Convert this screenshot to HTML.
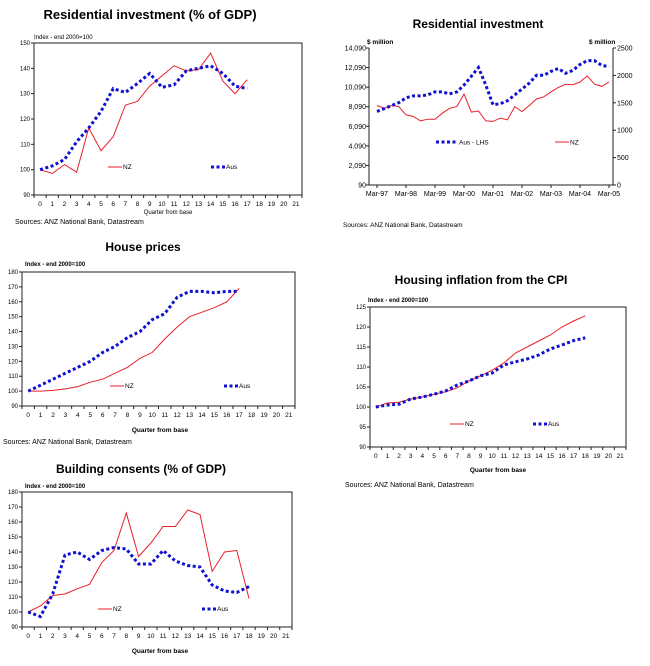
<!DOCTYPE html>
<html><head><meta charset="utf-8"><style>
body{margin:0;background:#fff;width:650px;height:661px;overflow:hidden}
svg{font-family:"Liberation Sans",Arial,sans-serif}
</style></head><body>
<svg id="s" width="650" height="661" xmlns="http://www.w3.org/2000/svg">
<text x="150" y="19" font-size="13" font-weight="bold" text-anchor="middle">Residential investment (% of GDP)</text>
<text x="34" y="39" font-size="6">Index - end 2000=100</text>
<text x="168" y="214" font-size="6" text-anchor="middle">Quarter from base</text>
<text x="15" y="224" font-size="7">Sources: ANZ National Bank, Datastream</text>

<text x="478" y="28" font-size="12" font-weight="bold" text-anchor="middle">Residential investment</text>
<text x="367" y="44" font-size="6.5" font-weight="bold">$ million</text>
<text x="589" y="44" font-size="6.5" font-weight="bold">$ million</text>
<text x="343" y="227" font-size="6.5">Sources: ANZ National Bank, Datastream</text>

<text x="143" y="251" font-size="12" font-weight="bold" text-anchor="middle">House prices</text>
<text x="25" y="266" font-size="6" font-weight="bold">Index - end 2000=100</text>
<text x="160" y="432" font-size="6.5" font-weight="bold" text-anchor="middle">Quarter from base</text>
<text x="3" y="444" font-size="7">Sources: ANZ National Bank, Datastream</text>

<text x="481" y="284" font-size="12" font-weight="bold" text-anchor="middle">Housing inflation from the CPI</text>
<text x="368" y="302" font-size="6" font-weight="bold">Index - end 2000=100</text>
<text x="498" y="472" font-size="6.5" font-weight="bold" text-anchor="middle">Quarter from base</text>
<text x="345" y="487" font-size="7">Sources: ANZ National Bank, Datastream</text>

<text x="141" y="473" font-size="12" font-weight="bold" text-anchor="middle">Building consents (% of GDP)</text>
<text x="25" y="488" font-size="6" font-weight="bold">Index - end 2000=100</text>
<text x="160" y="653" font-size="6.5" font-weight="bold" text-anchor="middle">Quarter from base</text>
</svg>
<script>
var s=document.getElementById('s'),NS='http://www.w3.org/2000/svg';
function el(t,a,txt){var e=document.createElementNS(NS,t);for(var k in a)e.setAttribute(k,a[k]);if(txt!==undefined)e.textContent=txt;s.appendChild(e);return e;}
var RED='#e8202a',BLUE='#1010d0';
function line(pts,c){el('polyline',{points:pts.map(function(p){return p[0].toFixed(1)+','+p[1].toFixed(1)}).join(' '),fill:'none',stroke:c==='r'?RED:BLUE,'stroke-width':c==='r'?1:3,'stroke-dasharray':c==='r'?'':'3 2.5'});}
function chart(o){
 var x0=o.x0,x1=o.x1,y0=o.y0,y1=o.y1,w=(x1-x0)/22;
 el('rect',{x:x0,y:y0,width:x1-x0,height:y1-y0,fill:'none',stroke:'#222','stroke-width':1});
 for(var v=o.min;v<=o.max;v+=o.step){var y=y1-(v-o.min)/(o.max-o.min)*(y1-y0);
  el('line',{x1:x0-3,x2:x0,y1:y,y2:y,stroke:'#222'});
  el('text',{x:x0-4,y:y+2,'font-size':6,'text-anchor':'end'},v);}
 for(var i=0;i<=22;i++){var x=x0+i*w;el('line',{x1:x,x2:x,y1:y1,y2:y1+3,stroke:'#222'});
  if(i<22)el('text',{x:x+w/2,y:y1+11,'font-size':6.5,'text-anchor':'middle'},i);}
 function P(d){return d.map(function(v,i){return [x0+w*(i+0.5),y1-(v-o.min)/(o.max-o.min)*(y1-y0)]});}
 line(P(o.nz),'r');line(P(o.aus),'b');
 var ly=o.ly;
 el('line',{x1:o.lx1,x2:o.lx1+14,y1:ly,y2:ly,stroke:RED});
 el('text',{x:o.lx1+15,y:ly+2,'font-size':6.5},'NZ');
 el('line',{x1:o.lx2,x2:o.lx2+14,y1:ly,y2:ly,stroke:BLUE,'stroke-width':3,'stroke-dasharray':'3 2.5'});
 el('text',{x:o.lx2+15,y:ly+2,'font-size':6.5},'Aus');
}
chart({x0:34,x1:302,y0:43,y1:195,min:90,max:150,step:10,ly:167,lx1:108,lx2:211,
 nz:[100,98.5,102,99,116.5,107.5,113,125.5,127,133,137,141,139,139.5,146,135,130,135.5],
 aus:[100,101.5,104,111,116.5,123,132,130.5,134,138,132.5,133.5,139,140,141,138,133,132]});
chart({x0:22,x1:295,y0:272,y1:406,min:90,max:180,step:10,ly:386,lx1:110,lx2:224,
 nz:[100,100,100.5,101.5,103,106,108,112,116,122,126,135,143,150,153,156,160,169],
 aus:[100,104,108,112,116,120,126,130,136,140,148,152,163,167,167,166,167,167]});
chart({x0:370,x1:626,y0:307,y1:447,min:90,max:125,step:5,ly:424,lx1:450,lx2:533,
 nz:[100,101,101.2,102,102.5,103.2,103.8,104.8,106.5,107.8,109.2,111,113.5,115,116.5,118,120,121.5,122.8],
 aus:[100,100.5,100.7,102,102.5,103.2,104,105.5,106.5,107.8,108.5,110.5,111.3,112,113,114.5,115.5,116.6,117.3]});
chart({x0:22,x1:292,y0:492,y1:627,min:90,max:180,step:10,ly:609,lx1:98,lx2:202,
 nz:[100,104,111,112,115.5,118.5,133,141,166,137,146,157,157,168,165,127,140,141,109],
 aus:[100,97,112,138,140,135,141,143,142,132,132,141,134,131,130,118,114,113,117]});
// chart 2
(function(){
 var x0=369,x1=613,y0=48,y1=185;
 el('line',{x1:x0,x2:x0,y1:y0,y2:y1,stroke:'#222'});
 el('line',{x1:x1,x2:x1,y1:y0,y2:y1,stroke:'#222'});
 el('line',{x1:x0,x2:x1,y1:y1,y2:y1,stroke:'#222'});
 var labs=['14,090','12,090','10,090','8,090','6,090','4,090','2,090','90'];
 for(var i=0;i<8;i++){var y=y0+i*(y1-y0)/7;el('line',{x1:x0-3,x2:x0,y1:y,y2:y,stroke:'#222'});
  el('text',{x:x0-3,y:y+2.5,'font-size':7,'text-anchor':'end'},labs[i]);}
 for(var i=0;i<=5;i++){var v=2500-i*500,y=y0+i*(y1-y0)/5;el('line',{x1:x1,x2:x1+3,y1:y,y2:y,stroke:'#222'});
  el('text',{x:x1+4,y:y+2.5,'font-size':7},v);}
 var yrs=['97','98','99','00','01','02','03','04','05'];
 function X(q){return 377+q*(609-377)/32;}
 for(var i=0;i<9;i++){var x=X(i*4);el('line',{x1:x,x2:x,y1:y1,y2:y1+3,stroke:'#222'});
  el('text',{x:x,y:y1+11,'font-size':7,'text-anchor':'middle'},'Mar-'+yrs[i]);}
 var aus=[7600,7900,8200,8500,9000,9200,9200,9300,9600,9600,9400,9600,10300,11200,12100,10300,8300,8400,8700,9300,9900,10500,11300,11300,11700,12000,11500,11800,12400,12800,12800,12300,12200];
 var nz=[1450,1400,1450,1430,1280,1250,1170,1200,1200,1310,1400,1430,1660,1330,1350,1170,1160,1220,1190,1430,1340,1450,1570,1610,1700,1780,1840,1830,1880,1990,1840,1800,1880];
 line(nz.map(function(v,i){return [X(i),y1-v/2500*(y1-y0)]}),'r');
 line(aus.map(function(v,i){return [X(i),y1-(v-90)/14000*(y1-y0)]}),'b');
 el('line',{x1:436,x2:457,y1:142,y2:142,stroke:BLUE,'stroke-width':3,'stroke-dasharray':'3 2.5'});
 el('text',{x:459,y:144.5,'font-size':6.5},'Aus - LHS');
 el('line',{x1:555,x2:569,y1:142,y2:142,stroke:RED});
 el('text',{x:570,y:144.5,'font-size':6.5},'NZ');
})();
</script>
</body></html>
